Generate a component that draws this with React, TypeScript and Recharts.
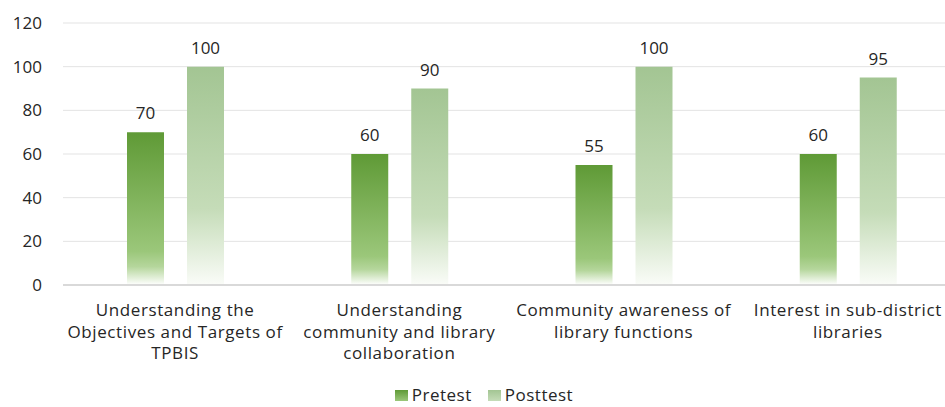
import { BarChart, Bar, XAxis, YAxis, CartesianGrid, Legend, LabelList } from 'recharts'

const categories = [
  'Understanding the\nObjectives and Targets of\nTPBIS',
  'Understanding\ncommunity and library\ncollaboration',
  'Community awareness of\nlibrary functions',
  'Interest in sub-district\nlibraries',
]
const pretest = [70, 60, 55, 60]
const posttest = [100, 90, 100, 95]
const yTicks = [0, 20, 40, 60, 80, 100, 120]

const FONT = '"Open Sans", sans-serif'
const TEXT = '#262626'
const FS = 17

const data = categories.map((name, i) => ({ name, pretest: pretest[i], posttest: posttest[i] }))

function CategoryTick({ x, y, payload }: any) {
  const lines = String(payload.value).split('\n')
  return (
    <text x={x} y={y} textAnchor="middle" fill={TEXT} fontSize={FS} fontFamily={FONT} letterSpacing={0.6}>
      {lines.map((line, i) => (
        <tspan key={i} x={x} y={y + 23 + i * 21.5}>
          {line}
        </tspan>
      ))}
    </text>
  )
}

function LegendContent() {
  const items = [
    { label: 'Pretest', fill: 'linear-gradient(#5f9a36, #9bc77a)' },
    { label: 'Posttest', fill: 'linear-gradient(#a3c593, #c5dcb8)' },
  ]
  return (
    <div
      style={{
        display: 'flex',
        justifyContent: 'center',
        gap: 16,
        paddingLeft: 8,
        paddingTop: 8,
        fontFamily: FONT,
        fontSize: FS,
        lineHeight: '20px',
        letterSpacing: 0.5,
        color: TEXT,
      }}
    >
      {items.map((it) => (
        <div key={it.label} style={{ display: 'flex', alignItems: 'center', gap: 4 }}>
          <span style={{ width: 13, height: 11, background: it.fill, display: 'inline-block' }} />
          <span>{it.label}</span>
        </div>
      ))}
    </div>
  )
}

export default function App() {
  return (
    <div
      style={{
        position: 'absolute',
        left: 0,
        top: 0,
        width: 945,
        height: 407,
        overflow: 'hidden',
        background: '#fff',
      }}
    >
      <BarChart
        width={960}
        height={407}
        data={data}
        margin={{ top: 23, right: 0, bottom: 0, left: 0 }}
        barSize={37}
        barGap={23}
      >
        <defs>
          {/* vertical fades down to white, per bar */}
          <linearGradient id="gradPre" x1="0" y1="0" x2="0" y2="1">
            <stop offset="0" stopColor="#5f9a36" />
            <stop offset="0.78" stopColor="#9bc77a" />
            <stop offset="0.88" stopColor="#b5d69c" />
            <stop offset="1" stopColor="#ffffff" />
          </linearGradient>
          <linearGradient id="gradPost" x1="0" y1="0" x2="0" y2="1">
            <stop offset="0" stopColor="#a3c593" />
            <stop offset="0.65" stopColor="#c5dcb8" />
            <stop offset="1" stopColor="#fafcf8" />
          </linearGradient>
        </defs>
        <CartesianGrid vertical={false} stroke="#e3e3e3" strokeWidth={1} />
        <XAxis
          dataKey="name"
          interval={0}
          height={92}
          tickLine={false}
          axisLine={{ stroke: '#d9d9d9', strokeWidth: 2 }}
          tick={<CategoryTick />}
        />
        <YAxis
          width={63}
          domain={[0, 120]}
          ticks={yTicks}
          axisLine={false}
          tickLine={false}
          tickMargin={15}
          tick={{ fill: TEXT, fontSize: FS, fontFamily: FONT }}
        />
        <Legend verticalAlign="bottom" height={30} content={<LegendContent />} />
        <Bar dataKey="pretest" name="Pretest" fill="url(#gradPre)" isAnimationActive={false}>
          <LabelList dataKey="pretest" position="top" offset={13} fill={TEXT} fontSize={FS} fontFamily={FONT} />
        </Bar>
        <Bar dataKey="posttest" name="Posttest" fill="url(#gradPost)" isAnimationActive={false}>
          <LabelList dataKey="posttest" position="top" offset={13} fill={TEXT} fontSize={FS} fontFamily={FONT} />
        </Bar>
      </BarChart>
    </div>
  )
}
